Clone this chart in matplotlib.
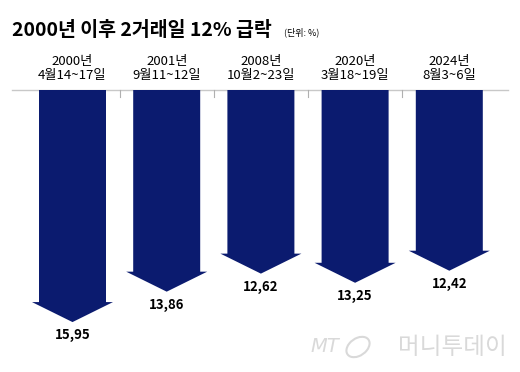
import matplotlib.pyplot as plt
from matplotlib.patches import Polygon, Ellipse

plt.rcParams['font.family'] = ['Noto Sans CJK KR', 'DejaVu Sans']

# 데이터
years = ['2000년', '2001년', '2008년', '2020년', '2024년']
periods = ['4월14~17일', '9월11~12일', '10월2~23일', '3월18~19일', '8월3~6일']
drops = [15.95, 13.86, 12.62, 13.25, 12.42]

NAVY = '#0b1b6f'
PX_X = 94.2    # px per category
PX_Y = 14.55   # px per %p

fig = plt.figure(figsize=(5.2, 3.72), dpi=100)
ax = fig.add_axes([0, 0, 1, 1])
ax.set_xlim(-72.5 / PX_X, (520 - 72.5) / PX_X)
ax.set_ylim((372 - 90) / PX_Y, -90 / PX_Y)
ax.axis('off')

shaft = 33.5 / PX_X
head = 40.5 / PX_X
head_h = 20 / PX_Y

# 화살표
for i, v in enumerate(drops):
    pts = [(i - shaft, 0), (i + shaft, 0), (i + shaft, v - head_h),
           (i + head, v - head_h), (i, v), (i - head, v - head_h),
           (i - shaft, v - head_h)]
    ax.add_patch(Polygon(pts, closed=True, color=NAVY, lw=0, zorder=3))
    ax.text(i, v + 13 / PX_Y, f'{v:.2f}'.replace('.', ','), ha='center', va='center',
            fontsize=9.5, fontweight='bold', color='black')
    ax.text(i, -28 / PX_Y, years[i], ha='center', va='center', fontsize=9.5, color='black')
    ax.text(i, -15 / PX_Y, periods[i], ha='center', va='center', fontsize=9.5, color='black')

# 기준선 + 구분 눈금
ax.plot([(12 - 72.5) / PX_X, (508 - 72.5) / PX_X], [0, 0], color='#c8c8c8', lw=1, zorder=2)
for i in range(len(drops) - 1):
    ax.plot([i + 0.5, i + 0.5], [0, 7 / PX_Y], color='#b0b0b0', lw=0.8, zorder=2)

# 제목
fig.text(12 / 520, 1 - 30 / 372, '2000년 이후 2거래일 12% 급락', fontsize=14,
         fontweight='bold', va='center', ha='left')
fig.text(284 / 520, 1 - 32 / 372, '(단위: %)', fontsize=6.5, va='center', ha='left')

# 워터마크
WM = '#d9d9d9'
fig.text(310 / 520, 1 - 347 / 372, 'MT', fontsize=14, color=WM, style='italic',
         ha='left', va='center', family=['DejaVu Sans'])
fig.patches.append(Ellipse((358 / 520, 1 - 347 / 372), 20 / 520, 22 / 372, angle=-30,
                           transform=fig.transFigure, fill=False, ec=WM, lw=1.5))
fig.text(507 / 520, 1 - 347 / 372, '머니투데이', fontsize=17, color=WM,
         ha='right', va='center')

fig.savefig('out.png', dpi=100)
